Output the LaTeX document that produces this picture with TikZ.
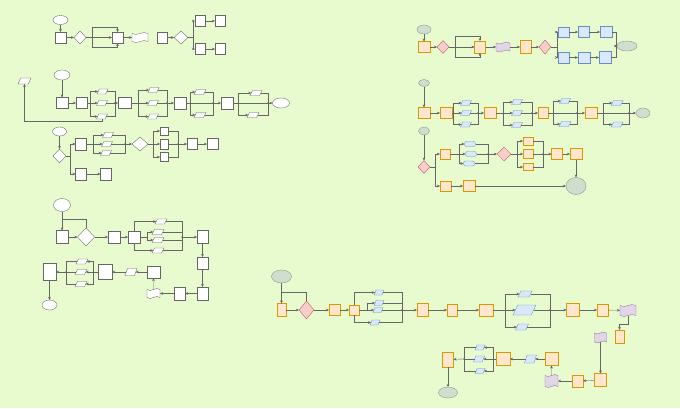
\documentclass[tikz,border=0pt]{standalone}
\usetikzlibrary{arrows.meta,shapes.geometric,shapes.symbols}
\definecolor{bgc}{RGB}{231,251,207}
\definecolor{ofill}{HTML}{FFE6CC}\definecolor{oline}{HTML}{D79B00}
\definecolor{rfill}{HTML}{F8CECC}\definecolor{rline}{HTML}{B85450}
\definecolor{bfill}{HTML}{DAE8FC}\definecolor{bline}{HTML}{6C8EBF}
\definecolor{pfill}{HTML}{E1D5E7}\definecolor{pline}{HTML}{9673A6}
\definecolor{gfill}{RGB}{208,222,208}\definecolor{gline}{RGB}{130,150,130}
\tikzset{
 base/.style={draw=black!60,line width=0.35pt,inner sep=0pt,outer sep=0pt,fill=white},
 sz/.style n args={2}{minimum width=#1pt,minimum height=#2pt},
 wbox/.style={base,rectangle},
 wdia/.style={base,diamond},
 wpar/.style={base,trapezium,trapezium left angle=70,trapezium right angle=110,trapezium stretches=true,inner xsep=0.5pt,inner ysep=0.5pt},
 well/.style={base,ellipse},
 wtape/.style={base,tape,tape bend top=in and out,tape bend bottom=in and out,tape bend height=2pt},
 obox/.style={wbox,fill=ofill,draw=oline},
 rdia/.style={wdia,fill=rfill,draw=rline},
 bbox/.style={wbox,fill=bfill,draw=bline},
 bpar/.style={wpar,fill=bfill,draw=bline},
 bround/.style={wbox,rounded corners=2pt,fill=bfill,draw=bline},
 ptape/.style={wtape,fill=pfill,draw=pline},
 gell/.style={well,fill=gfill,draw=gline},
 ln/.style={draw=black!60,line width=0.35pt},
 arr/.style={ln,-{Stealth[length=3pt,width=2.6pt]}},
}
\begin{document}
\begin{tikzpicture}[x=1pt,y=-1pt]
\fill[bgc] (0,0) rectangle (680,408);
\useasboundingbox (0,0) rectangle (680,408);

% ---------- Diagram 1 (top left)
\node[well,sz={15}{9}] (a1) at (60.5,20) {};
\node[wbox,sz={11}{11}] (a2) at (60.5,37.5) {};
\node[wdia,sz={12}{13}] (a3) at (80,37.5) {};
\node[wbox,sz={11}{11}] (a4) at (117.5,37.5) {};
\node[wtape,sz={16}{10}] (a5) at (140,37.5) {};
\node[wbox,sz={10}{11}] (a6) at (162,37.5) {};
\node[wdia,sz={14}{13}] (a7) at (181,37.5) {};
\node[wbox,sz={10}{11}] (a8) at (200,21) {};
\node[wbox,sz={10}{11}] (a9) at (220,21) {};
\node[wbox,sz={10}{11}] (a10) at (200,49) {};
\node[wbox,sz={10}{11}] (a11) at (220,49) {};
\draw[arr] (a1) -- (a2);
\draw[arr] (a2) -- (a3);
\draw[arr] (a3) -- (a4);
\draw[arr] (a3.east) -- (92,37.5) -- (92,27) -| (a4.north);
\draw[arr] (92,37.5) -- (92,47) -| (a4.south);
\draw[arr] (a4) -- (a5);
\draw[arr] (a6) -- (a7);
\draw[ln] (a7.east) -- (193,37.5);
\draw[arr] (193,37.5) |- (a8);
\draw[arr] (193,37.5) |- (a10);
\draw[arr] (a8) -- (a9);
\draw[arr] (a10) -- (a11);

% ---------- Diagram 2
\node[wpar,sz={13}{6}] (b0) at (24.5,81) {};
\node[well,sz={16}{10}] (b1) at (62,75) {};
\node[wbox,sz={12}{11}] (b2) at (62,103) {};
\node[wbox,sz={11}{11}] (b3) at (81.5,103) {};
\node[wpar,sz={11}{5}] (b4) at (102.5,91.5) {};
\node[wpar,sz={11}{5}] (b5) at (102,103) {};
\node[wpar,sz={11}{5}] (b6) at (102,116.5) {};
\node[wbox,sz={13}{11}] (b7) at (124.5,103) {};
\node[wpar,sz={11}{5}] (b8) at (153.5,90) {};
\node[wpar,sz={11}{5}] (b9) at (153,103) {};
\node[wpar,sz={11}{5}] (b10) at (153,116.5) {};
\node[wbox,sz={12}{12}] (b11) at (180,103) {};
\node[wpar,sz={12}{5}] (b12) at (200,92) {};
\node[wpar,sz={12}{5}] (b13) at (200,115) {};
\node[wbox,sz={12}{12}] (b14) at (227,103) {};
\node[wpar,sz={12}{5}] (b15) at (256,93) {};
\node[wpar,sz={12}{5}] (b16) at (253,115) {};
\node[well,sz={17}{10}] (b17) at (281,103) {};
\draw[arr] (b1) -- (b2);
\draw[arr] (b2) -- (b3);
\draw[ln] (b3) -- (90,103);
\draw[arr] (90,103) |- (b4);
\draw[arr] (90,103) -- (b5);
\draw[arr] (90,103) |- (b6);
\draw[ln] (b4) -| (115,103); \draw[ln] (b5) -- (115,103); \draw[ln] (b6) -| (115,103);
\draw[arr] (115,103) -- (b7);
\draw[ln] (b7) -- (138,103);
\draw[arr] (138,103) |- (b8);
\draw[arr] (138,103) -- (b9);
\draw[arr] (138,103) |- (b10);
\draw[ln] (b8) -| (167,103); \draw[ln] (b9) -- (167,103); \draw[ln] (b10) -| (167,103);
\draw[arr] (167,103) -- (b11);
\draw[ln] (b11) -- (190,103);
\draw[arr] (190,103) |- (b12);
\draw[arr] (190,103) |- (b13);
\draw[ln] (190,103) -- (213,103);
\draw[ln] (b12) -| (213,103); \draw[ln] (b13) -| (213,103);
\draw[arr] (213,103) -- (b14);
\draw[ln] (b14) -- (238,103);
\draw[arr] (238,103) |- (b15);
\draw[arr] (238,103) |- (b16);
\draw[ln] (238,103) -- (268,103);
\draw[ln] (b15) -| (268,103); \draw[ln] (b16) -| (268,103);
\draw[arr] (268,103) -- (b17);
\draw[arr] (b6.south) -- (102,121) -| (b0.south);

% ---------- Diagram 3
\node[well,sz={14}{9}] (c1) at (59.5,131.5) {};
\node[wdia,sz={13}{14}] (c2) at (59.5,156) {};
\node[wbox,sz={11}{12}] (c3) at (81,144) {};
\node[wpar,sz={11}{5}] (c4) at (108,135) {};
\node[wpar,sz={11}{5}] (c5) at (107,144) {};
\node[wpar,sz={11}{5}] (c6) at (106,153) {};
\node[wdia,sz={16}{14}] (c7) at (140,144) {};
\node[wbox,sz={8}{8}] (c8) at (164,131) {};
\node[wbox,sz={8}{10}] (c9) at (164,144) {};
\node[wbox,sz={8}{9}] (c10) at (164,157) {};
\node[wbox,sz={10}{11}] (c11) at (192,144) {};
\node[wbox,sz={11}{11}] (c12) at (212.5,144) {};
\node[wbox,sz={11}{12}] (c13) at (81,174) {};
\node[wbox,sz={11}{12}] (c14) at (106,174) {};
\draw[arr] (c1) -- (c2);
\draw[ln] (c2) -- (70,156);
\draw[arr] (70,156) |- (c3);
\draw[arr] (70,156) |- (c13);
\draw[ln] (c3) -- (93,144);
\draw[arr] (93,144) |- (c4);
\draw[arr] (93,144) -- (c5);
\draw[arr] (93,144) |- (c6);
\draw[ln] (c4) -| (125,144); \draw[ln] (c5) -- (125,144); \draw[ln] (c6) -| (125,144);
\draw[arr] (125,144) -- (c7);
\draw[ln] (c7) -- (153,144);
\draw[arr] (153,144) |- (c8);
\draw[arr] (153,144) -- (c9);
\draw[arr] (153,144) |- (c10);
\draw[ln] (c8) -| (178,144); \draw[ln] (c9) -- (178,144); \draw[ln] (c10) -| (178,144);
\draw[arr] (178,144) -- (c11);
\draw[arr] (c11) -- (c12);
\draw[arr] (c13) -- (c14);

% ---------- Diagram 4
\node[well,sz={17}{13}] (d1) at (62,205) {};
\node[wbox,sz={12}{13}] (d2) at (62,237) {};
\node[wdia,sz={17}{18}] (d3) at (86,237) {};
\node[wbox,sz={12}{12}] (d4) at (114,237) {};
\node[wbox,sz={12}{12}] (d5) at (134,237) {};
\node[wpar,sz={12}{5}] (d6) at (161,221.5) {};
\node[wpar,sz={12}{5}] (d7) at (158,232) {};
\node[wpar,sz={12}{5}] (d8) at (158,240) {};
\node[wpar,sz={12}{5}] (d9) at (158,250.5) {};
\node[wbox,sz={11}{13}] (d10) at (202.5,237) {};
\node[wbox,sz={11}{12}] (d11) at (202.5,263) {};
\node[wbox,sz={11}{13}] (d12) at (202.5,293.5) {};
\node[wbox,sz={11}{13}] (d13) at (179.5,293.5) {};
\node[wtape,sz={13}{10}] (d14) at (153.5,293.5) {};
\node[wbox,sz={13}{12}] (d15) at (153.5,272) {};
\node[wpar,sz={12}{7}] (d16) at (131,272) {};
\node[wbox,sz={14}{15}] (d17) at (105,272) {};
\node[wpar,sz={12}{5}] (d18) at (82,261.5) {};
\node[wpar,sz={12}{5}] (d19) at (81,272) {};
\node[wpar,sz={12}{5}] (d20) at (81,284) {};
\node[wbox,sz={13}{17}] (d21) at (49.5,272) {};
\node[well,sz={15}{10}] (d22) at (49.5,305) {};
\draw[arr] (d1) -- (d2);
\draw[arr] (d2) -- (d3);
\draw[ln] (d3.north) -- (86,219) -- (62,219);
\draw[arr] (d3) -- (d4);
\draw[arr] (d4) -- (d5);
\draw[arr] (d5.north) |- (d6);
\draw[arr] (d5.south) |- (d9);
\draw[ln] (d5) -- (147,237);
\draw[arr] (147,237) |- (d7);
\draw[arr] (147,237) |- (d8);
\draw[ln] (d6) -| (182,237); \draw[ln] (d7) -| (182,237);
\draw[ln] (d8) -| (182,237); \draw[ln] (d9) -| (182,237);
\draw[arr] (182,237) -- (d10);
\draw[arr] (d10) -- (d11);
\draw[arr] (d11) -- (d12);
\draw[arr] (d12) -- (d13);
\draw[arr] (d13) -- (d14);
\draw[arr] (d14) -- (d15);
\draw[arr] (d15) -- (d16);
\draw[arr] (d16) -- (d17);
\draw[ln] (d17) -- (93,272);
\draw[arr] (93,272) |- (d18);
\draw[arr] (93,272) -- (d19);
\draw[arr] (93,272) |- (d20);
\draw[ln] (d18) -| (66,272); \draw[ln] (d19) -- (66,272); \draw[ln] (d20) -| (66,272);
\draw[arr] (66,272) -- (d21);
\draw[arr] (d21) -- (d22);

% ---------- Diagram 5 (top right)
\node[gell,sz={14}{9}] (e1) at (424,29.5) {};
\node[obox,sz={12}{11}] (e2) at (424,47) {};
\node[rdia,sz={12}{13}] (e3) at (443,47) {};
\node[obox,sz={11}{12}] (e4) at (480,47) {};
\node[ptape,sz={14}{10}] (e5) at (503,47) {};
\node[obox,sz={11}{13}] (e6) at (525.5,47) {};
\node[rdia,sz={12}{14}] (e7) at (545,47) {};
\node[bbox,sz={11}{10}] (e8) at (563.5,32) {};
\node[bbox,sz={11}{11}] (e9) at (583.5,32) {};
\node[bbox,sz={12}{11}] (e10) at (606,32) {};
\node[bbox,sz={11}{11}] (e11) at (563.5,57.5) {};
\node[bbox,sz={12}{11}] (e12) at (584,57.5) {};
\node[bbox,sz={12}{12}] (e13) at (605,57.5) {};
\node[gell,sz={20}{10}] (e14) at (627,46) {};
\draw[arr] (e1) -- (e2);
\draw[arr] (e2) -- (e3);
\draw[ln] (e3) -- (455,47);
\draw[arr] (455,47) -- (e4);
\draw[arr] (455,47) -- (455,36.5) -| (e4.north);
\draw[arr] (455,47) -- (455,57.5) -| (e4.south);
\draw[arr] (e4) -- (e5);
\draw[arr] (e5) -- (e6);
\draw[arr] (e6) -- (e7);
\draw[ln] (e7) -- (557,47);
\draw[arr] (557,47) |- (e8);
\draw[arr] (557,47) |- (e11);
\draw[arr] (e8) -- (e9); \draw[arr] (e9) -- (e10);
\draw[arr] (e11) -- (e12); \draw[arr] (e12) -- (e13);
\draw[ln] (e10) -| (616,46); \draw[ln] (e13) -| (616,46);
\draw[arr] (616,46) -- (e14);

% ---------- Diagram 6
\node[gell,sz={11}{7}] (f0) at (424,83) {};
\node[obox,sz={12}{11}] (f1) at (424,113) {};
\node[obox,sz={12}{11}] (f2) at (446,113) {};
\node[bpar,sz={11}{5}] (f3) at (466,103) {};
\node[bpar,sz={11}{5}] (f4) at (466,113) {};
\node[bpar,sz={11}{5}] (f5) at (466,124.5) {};
\node[obox,sz={12}{11}] (f6) at (490,113) {};
\node[bpar,sz={11}{5}] (f7) at (517,102) {};
\node[bpar,sz={11}{5}] (f8) at (517,113) {};
\node[bpar,sz={11}{5}] (f9) at (517,125) {};
\node[obox,sz={10}{11}] (f10) at (543,113) {};
\node[bpar,sz={11}{5}] (f11) at (565,101) {};
\node[bpar,sz={12}{5}] (f12) at (565,124) {};
\node[obox,sz={12}{11}] (f13) at (591,113) {};
\node[bpar,sz={12}{5}] (f14) at (617,103) {};
\node[bpar,sz={12}{5}] (f15) at (617,124.5) {};
\node[gell,sz={14}{10}] (f16) at (643,113) {};
\node[gell,sz={11}{8}] (f17) at (424,131) {};
\draw[arr] (f0) -- (f1);
\draw[arr] (f1) -- (f2);
\draw[ln] (f2) -- (453,113);
\draw[arr] (453,113) |- (f3);
\draw[arr] (453,113) -- (f4);
\draw[arr] (453,113) |- (f5);
\draw[ln] (f3) -| (478,113); \draw[ln] (f4) -- (478,113); \draw[ln] (f5) -| (478,113);
\draw[arr] (478,113) -- (f6);
\draw[ln] (f6) -- (503,113);
\draw[arr] (503,113) |- (f7);
\draw[arr] (503,113) -- (f8);
\draw[arr] (503,113) |- (f9);
\draw[ln] (f7) -| (532,113); \draw[ln] (f8) -- (532,113); \draw[ln] (f9) -| (532,113);
\draw[arr] (532,113) -- (f10);
\draw[ln] (f10) -- (553,113);
\draw[arr] (553,113) |- (f11);
\draw[arr] (553,113) |- (f12);
\draw[ln] (553,113) -- (577,113);
\draw[ln] (f11) -| (577,113); \draw[ln] (f12) -| (577,113);
\draw[arr] (577,113) -- (f13);
\draw[ln] (f13) -- (603,113);
\draw[arr] (603,113) |- (f14);
\draw[arr] (603,113) |- (f15);
\draw[ln] (603,113) -- (629,113);
\draw[ln] (f14) -| (629,113); \draw[ln] (f15) -| (629,113);
\draw[arr] (629,113) -- (f16);

% ---------- Diagram 7
\node[rdia,sz={12}{13}] (g1) at (424,167) {};
\node[obox,sz={10}{10}] (g2) at (445,154) {};
\node[bround,sz={11}{5}] (g3) at (470,144) {};
\node[bround,sz={11}{5}] (g4) at (471,154) {};
\node[bround,sz={11}{5}] (g5) at (469,163.5) {};
\node[rdia,sz={14}{14}] (g6) at (504,154) {};
\node[obox,sz={10}{8}] (g7) at (528,141) {};
\node[obox,sz={10}{9}] (g8) at (528,154) {};
\node[obox,sz={10}{7}] (g9) at (528,167) {};
\node[obox,sz={11}{11}] (g10) at (557,154) {};
\node[obox,sz={12}{11}] (g11) at (576,154) {};
\node[gell,sz={20}{17}] (g12) at (576,186) {};
\node[obox,sz={11}{10}] (g13) at (445.5,186) {};
\node[obox,sz={12}{11}] (g14) at (469,186) {};
\draw[arr] (f17) -- (g1);
\draw[ln] (g1) -- (435,167);
\draw[arr] (435,167) |- (g2);
\draw[arr] (435,167) |- (g13);
\draw[ln] (g2) -- (459,154);
\draw[arr] (459,154) |- (g3);
\draw[arr] (459,154) -- (g4);
\draw[arr] (459,154) |- (g5);
\draw[ln] (g3) -| (488,154); \draw[ln] (g4) -- (488,154); \draw[ln] (g5) -| (488,154);
\draw[arr] (488,154) -- (g6);
\draw[ln] (g6) -- (517,154);
\draw[arr] (517,154) |- (g7);
\draw[arr] (517,154) -- (g8);
\draw[arr] (517,154) |- (g9);
\draw[ln] (g7) -| (543,154); \draw[ln] (g8) -- (543,154); \draw[ln] (g9) -| (543,154);
\draw[arr] (543,154) -- (g10);
\draw[arr] (g10) -- (g11);
\draw[arr] (g11) -- (g12);
\draw[arr] (g13) -- (g14);
\draw[arr] (g14) -- (g12);

% ---------- Diagram 8 (bottom)
\node[gell,sz={20}{13}] (h1) at (281.5,276.5) {};
\node[obox,sz={9}{13}] (h2) at (281.5,310) {};
\node[rdia,sz={15}{18}] (h3) at (306.5,310) {};
\node[obox,sz={11}{11}] (h4) at (334.5,310) {};
\node[obox,sz={10}{10}] (h5) at (354,310) {};
\node[bpar,sz={10}{5}] (h6) at (379,292.5) {};
\node[bpar,sz={10}{5}] (h7) at (379,303) {};
\node[bpar,sz={10}{5}] (h8) at (378,310) {};
\node[bpar,sz={10}{5}] (h9) at (375,322.5) {};
\node[obox,sz={11}{13}] (h10) at (422.5,310) {};
\node[obox,sz={10}{12}] (h11) at (452,310) {};
\node[obox,sz={14}{12}] (h12) at (486,310) {};
\node[bpar,sz={14}{6}] (h13) at (525,294) {};
\node[bpar,sz={23}{10}] (h14) at (524.5,310) {};
\node[bpar,sz={13}{6}] (h15) at (522,327) {};
\node[obox,sz={13}{13}] (h16) at (573,310) {};
\node[obox,sz={11}{12}] (h17) at (602.5,310) {};
\node[ptape,sz={16}{12}] (h18) at (628,310.5) {};
\node[obox,sz={9}{13}] (h19) at (619.5,336.5) {};
\node[ptape,sz={12}{11}] (h20) at (600.5,337.5) {};
\node[obox,sz={12}{13}] (h21) at (600.5,380) {};
\node[obox,sz={11}{12}] (h22) at (577.5,381) {};
\node[ptape,sz={13}{13}] (h23) at (551.5,381) {};
\node[obox,sz={13}{13}] (h24) at (551.5,359) {};
\node[bpar,sz={12}{8}] (h25) at (530.5,359) {};
\node[obox,sz={14}{13}] (h26) at (503,359) {};
\node[bpar,sz={10}{5}] (h27) at (480,347.5) {};
\node[bpar,sz={11}{6}] (h28) at (479,359) {};
\node[bpar,sz={10}{5}] (h29) at (480,371) {};
\node[obox,sz={11}{15}] (h30) at (448,359.5) {};
\node[gell,sz={19}{11}] (h31) at (448,392.5) {};
\draw[arr] (h1) -- (h2);
\draw[arr] (h2) -- (h3);
\draw[ln] (h3.north) -- (306.5,292) -- (281.5,292);
\draw[arr] (h3) -- (h4);
\draw[arr] (h4) -- (h5);
\draw[arr] (h5.north) |- (h6);
\draw[arr] (h5.south) |- (h9);
\draw[ln] (h5) -- (367,310);
\draw[arr] (367,310) |- (h7);
\draw[arr] (367,310) -- (h8);
\draw[ln] (h6) -| (402,310); \draw[ln] (h7) -| (402,310);
\draw[ln] (h8) -- (402,310); \draw[ln] (h9) -| (402,310);
\draw[arr] (402,310) -- (h10);
\draw[arr] (h10) -- (h11);
\draw[arr] (h11) -- (h12);
\draw[ln] (h12) -- (505,310);
\draw[arr] (505,310) |- (h13);
\draw[arr] (505,310) -- (h14);
\draw[arr] (505,310) |- (h15);
\draw[ln] (h13) -| (550,310); \draw[ln] (h14) -- (550,310); \draw[ln] (h15) -| (550,310);
\draw[arr] (550,310) -- (h16);
\draw[arr] (h16) -- (h17);
\draw[arr] (h17) -- (h18);
\draw[arr] (h18.south) -- (628,324) -| (h19.north);
\draw[arr] (h20) -- (h21);
\draw[arr] (h21) -- (h22);
\draw[arr] (h22) -- (h23);
\draw[arr] (h23) -- (h24);
\draw[arr] (h24) -- (h25);
\draw[arr] (h25) -- (h26);
\draw[ln] (h26) -- (493,359);
\draw[arr] (493,359) |- (h27);
\draw[arr] (493,359) -- (h28);
\draw[arr] (493,359) |- (h29);
\draw[ln] (h27) -| (464,359); \draw[ln] (h28) -- (464,359); \draw[ln] (h29) -| (464,359);
\draw[arr] (464,359) -- (h30);
\draw[arr] (h30) -- (h31);

% junction dots
\foreach \p in {(115,103),(167,103),(213,103),(268,103),(125,144),(178,144),(182,237),(66,272),
 (616,46),(478,113),(532,113),(577,113),(629,113),(488,154),(543,154),(402,310),(550,310),(464,359)}
 \fill[black!60] \p circle[radius=0.8pt];
\end{tikzpicture}
\end{document}
